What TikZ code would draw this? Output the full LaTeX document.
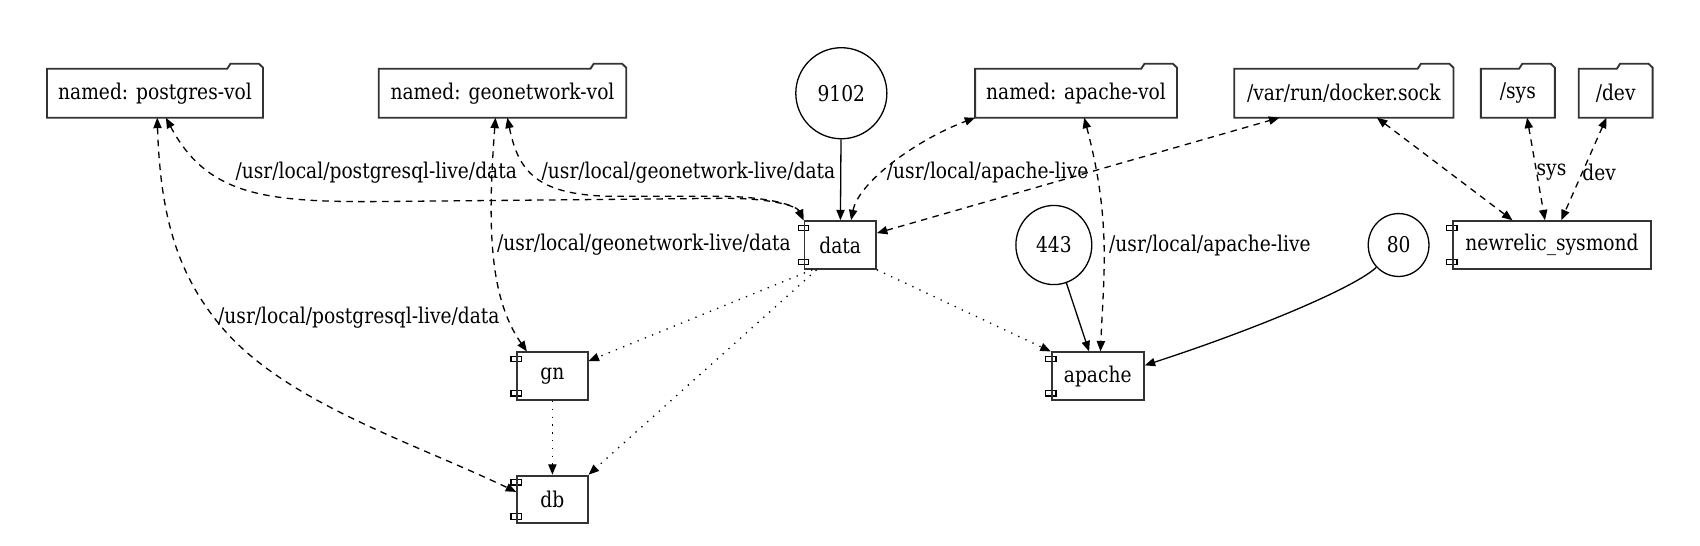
\documentclass[tikz,border=0pt]{standalone}
\usepackage{fontspec}
\setmainfont{DejaVu Serif}[FakeStretch=0.86]
\usetikzlibrary{arrows.meta,positioning,shapes.geometric}

\begin{document}
\begin{tikzpicture}[
    x=0.5pt,
    y=0.5pt,
    font=\rmfamily\fontsize{10pt}{12pt}\selectfont,
    line width=0.6pt,
    volumebox/.style={
        minimum height=22pt,
        inner sep=0pt,
        append after command={
            \pgfextra{
                \let\volumenode\tikzlastnode
                \draw[line join=miter, line width=0.85pt, draw=black!80] (\volumenode.south west) -- (\volumenode.north west)
                    -- ([xshift=-16.5pt]\volumenode.north east)
                    -- ([xshift=-15pt,yshift=2.3pt]\volumenode.north east)
                    -- ([xshift=-1.9pt,yshift=2.3pt]\volumenode.north east)
                    -- ([yshift=0.5pt]\volumenode.north east)
                    -- (\volumenode.south east) -- cycle;
            }
        }
    },
    servicebox/.style={
        draw=black!80,
        line width=0.85pt,
        rectangle,
        minimum height=22pt,
        inner sep=0pt,
        append after command={
            \pgfextra{
                \let\servicenode\tikzlastnode
                \draw[fill=white, line width=0.6pt] ([xshift=-2.4pt,yshift=-2.3pt]\servicenode.north west) rectangle ++(4.8pt,-2.5pt);
                \draw[fill=white, line width=0.6pt] ([xshift=-2.4pt,yshift=2.3pt]\servicenode.south west) rectangle ++(4.8pt,2.5pt);
            }
        }
    },
    portnode/.style={draw, ellipse, inner sep=0pt},
    edgelabel/.style={inner sep=1pt},
    linkarrow/.style={-{Triangle[length=4.8pt,width=3.8pt]}},
    mountarrow/.style={{Triangle[length=4.8pt,width=3.8pt]}-{Triangle[length=4.8pt,width=3.8pt]}, dash pattern=on 3pt off 2.5pt},
    dependarrow/.style={-{Triangle[length=4.8pt,width=3.8pt]}, dash pattern=on 0.6pt off 3pt}
]
\useasboundingbox (0,0) rectangle (1568,503);
\node[volumebox, minimum width=99pt] (pgvol) at (143,417) {named: postgres-vol};
\node[volumebox, minimum width=113.5pt] (gnvol) at (463.5,417) {named: geonetwork-vol};
\node[volumebox, minimum width=92.5pt] (apvol) at (992.5,417) {named: apache-vol};
\node[volumebox, minimum width=100.5pt] (dockvol) at (1239.5,417) {/var/run/docker.sock};
\node[volumebox, minimum width=33.5pt] (sysvol) at (1400,417) {/sys};
\node[volumebox, minimum width=33.5pt, right=11pt of sysvol] (devvol) {/dev};
\node[portnode, minimum width=42pt, minimum height=42pt] (port9102) at (776,417) {9102};
\node[portnode, minimum width=35pt, minimum height=36.5pt] (port443) at (972,277) {443};
\node[portnode, minimum width=28pt, minimum height=29pt] (port80) at (1290,277) {80};
\node[servicebox, minimum width=33pt] (data) at (775,277) {data};
\node[servicebox, minimum width=91.5pt] (sysmond) at (1431.5,277) {newrelic\_sysmond};
\node[servicebox, minimum width=32.5pt] (gn) at (509.5,156) {gn};
\node[servicebox, minimum width=32.5pt, below=34pt of gn] (db) {db};
\node[servicebox, minimum width=42.5pt] (apache) at (1012.5,156) {apache};
\draw[linkarrow] (port9102) -- (data);
\draw[linkarrow] (port443) -- ([xshift=-4pt]apache.north);
\draw[linkarrow] (port80.225) .. controls (1250,238) and (1160,200) .. ([yshift=5pt]apache.east);
\draw[mountarrow] ([xshift=5pt]pgvol.south) .. controls (190,325) and (240,317) .. (340,317) -- (660,320) .. controls (710,321) and (735,313) .. (data.north west);
\draw[mountarrow] ([xshift=2.25pt]gnvol.south) .. controls (478,345) and (495,324) .. (560,322) -- (660,322) .. controls (710,322) and (735,313) .. (data.north west);
\draw[mountarrow] ([xshift=5pt]data.north) .. controls (792,335) and (845,374) .. (apvol.south west);
\draw[mountarrow] ([yshift=5.5pt]data.east) -- ([xshift=-29.75pt]dockvol.south);
\draw[mountarrow] ([xshift=-11.75pt]gn.north) .. controls (450,230) and (450,300) .. ([xshift=-3.25pt]gnvol.south);
\draw[mountarrow] ([xshift=1pt]pgvol.south) .. controls (148,300) and (165,245) .. (210,195) .. controls (270,130) and (380,95) .. ([yshift=3.5pt]db.west);
\draw[mountarrow] ([xshift=3.75pt]apvol.south) .. controls (1025,300) and (1018,250) .. ([xshift=1.25pt]apache.north);
\draw[mountarrow] ([xshift=15.25pt]dockvol.south) -- ([xshift=-18.25pt]sysmond.north);
\draw[mountarrow] ([xshift=4.25pt]sysvol.south) -- ([xshift=-3.25pt]sysmond.north);
\draw[mountarrow] ([xshift=-4.25pt]devvol.south) -- ([xshift=4.25pt]sysmond.north);
\draw[dependarrow] ([xshift=4pt]data.south west) -- ([yshift=7pt]gn.east);
\draw[dependarrow] ([xshift=6pt]data.south west) -- (db.north east);
\draw[dependarrow] (data.south east) -- (apache.north west);
\draw[dependarrow] (gn) -- (db);
\node[edgelabel] (pglabel) at (347,344) {/usr/local/postgresql-live/data};
\node[edgelabel] (gnlabel) at (635,344) {/usr/local/geonetwork-live/data};
\node[edgelabel] (aplabel) at (911,344) {/usr/local/apache-live};
\node[edgelabel] (gnmount) at (594,277) {/usr/local/geonetwork-live/data};
\node[edgelabel] (apmount) at (1116,277) {/usr/local/apache-live};
\node[edgelabel] (pgmount) at (331,210) {/usr/local/postgresql-live/data};
\node[edgelabel] (syslabel) at (1431,344) {sys};
\node[edgelabel] (devlabel) at (1475,344) {dev};
\end{tikzpicture}
\end{document}
